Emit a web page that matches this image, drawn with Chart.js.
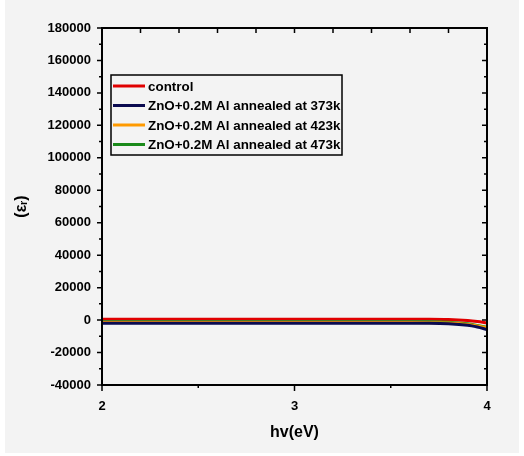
<!DOCTYPE html>
<html>
<head>
<meta charset="utf-8">
<script src="https://cdn.jsdelivr.net/npm/chart.js@4.4.0/dist/chart.umd.min.js"></script>
<style>
  html, body { margin: 0; padding: 0; background: #fff; }
  #panel { position: absolute; left: 5px; top: 0; width: 514px; height: 453px; background: #f3f3f3; }
  #wrap { position: absolute; left: 0; top: 0; width: 524px; height: 456px; }
</style>
</head>
<body>
<div id="panel"></div>
<div id="wrap"><canvas id="chart" width="524" height="456"></canvas></div>
<script>
// photon energy (eV)
const energy = [2, 2.5, 3, 3.5, 3.7, 3.8, 3.9, 3.95, 4];
const control = [500, 500, 500, 500, 500, 300, -300, -900, -1800];
const annealed373 = [-2000, -2000, -2000, -2000, -2000, -2300, -3200, -4300, -5800];
const annealed423 = [-1500, -1500, -1500, -1500, -1600, -1800, -2700, -3600, -4800];
const annealed473 = [-1000, -1000, -1000, -1000, -1000, -1300, -2300, -3300, -4500];
const seriesNames = ['control', 'ZnO+0.2M Al annealed at 373k', 'ZnO+0.2M Al annealed at 423k', 'ZnO+0.2M Al annealed at 473k'];
const seriesColors = ['#e00000', '#0a0a50', '#ff9a00', '#1a8a1a'];
const yTicks = [-40000, -20000, 0, 20000, 40000, 60000, 80000, 100000, 120000, 140000, 160000, 180000];
const xTicks = [2, 3, 4];

function toPoints(ys) {
    return energy.map((x, i) => ({ x: x, y: ys[i] }));
}

const allSeries = [control, annealed373, annealed423, annealed473];
// draw control last so it sits on top like the original
const order = [1, 2, 3, 0];
const datasets = order.map(i => ({
    label: seriesNames[i],
    data: toPoints(allSeries[i]),
    borderColor: seriesColors[i],
    borderWidth: 3,
    pointRadius: 0,
    tension: 0.3,
    fill: false
}));

const font = '"Liberation Sans", Arial, sans-serif';

// frame, tick marks and the boxed legend
const frameTicks = {
    id: 'frameTicks',
    afterDatasetsDraw(chart) {
        const c = chart.ctx;
        const a = chart.chartArea;
        const xs = chart.scales.x;
        const ys = chart.scales.y;
        c.save();
        c.strokeStyle = '#000';
        c.lineWidth = 2;
        c.strokeRect(a.left, a.top, a.right - a.left, a.bottom - a.top);
        c.lineWidth = 1.5;
        c.beginPath();
        for (let v = -40000; v <= 180000; v += 10000) {
            const y = ys.getPixelForValue(v);
            const len = v % 20000 === 0 ? 5 : 3;
            c.moveTo(a.left - len, y);
            c.lineTo(a.left, y);
            c.moveTo(a.right, y);
            c.lineTo(a.right - len, y);
        }
        for (let v = 2; v <= 4.001; v += 0.5) {
            const x = xs.getPixelForValue(v);
            const len = Math.abs(v - Math.round(v)) < 0.01 ? 6 : 3;
            c.moveTo(x, a.bottom);
            c.lineTo(x, a.bottom + len);
        }
        for (let v = 2.2; v < 3.95; v += 0.2) {
            const x = xs.getPixelForValue(v);
            c.moveTo(x, a.top);
            c.lineTo(x, a.top + 5);
        }
        c.stroke();

        // legend box
        const lx = 111, ly = 75, lw = 231, lh = 80;
        c.fillStyle = '#f3f3f3';
        c.fillRect(lx, ly, lw, lh);
        c.lineWidth = 1.5;
        c.strokeRect(lx, ly, lw, lh);
        c.font = 'bold 13.4px ' + font;
        c.textBaseline = 'middle';
        seriesNames.forEach((name, i) => {
            const y = ly + 11 + i * 19.5;
            c.strokeStyle = seriesColors[i];
            c.lineWidth = 3;
            c.beginPath();
            c.moveTo(lx + 2, y);
            c.lineTo(lx + 34, y);
            c.stroke();
            c.fillStyle = '#000';
            c.fillText(name, lx + 37, y + 1);
        });
        c.restore();
    }
};

new Chart(document.getElementById('chart'), {
    type: 'line',
    data: { datasets: datasets },
    options: {
        responsive: false,
        animation: false,
        layout: { padding: { top: 28, right: 37, left: 0, bottom: 0 } },
        plugins: { legend: { display: false }, tooltip: { enabled: false } },
        scales: {
            x: {
                type: 'linear',
                min: 2,
                max: 4,
                afterBuildTicks(scale) { scale.ticks = xTicks.map(v => ({ value: v })); },
                afterFit(scale) { scale.height = 71; },
                grid: { display: false },
                border: { display: false },
                ticks: { color: '#000', padding: 6, callback: v => String(v), font: { family: font, weight: 'bold', size: 13 } },
                title: { display: true, text: 'hv(eV)', color: '#000', padding: { top: 0, bottom: 14 }, font: { family: font, weight: 'bold', size: 16 } }
            },
            y: {
                min: -40000,
                max: 180000,
                afterBuildTicks(scale) { scale.ticks = yTicks.map(v => ({ value: v })); },
                afterFit(scale) { scale.width = 102; },
                grid: { display: false },
                border: { display: false },
                ticks: { color: '#000', padding: 3, callback: v => String(v), font: { family: font, weight: 'bold', size: 13 } },
                title: { display: true, text: '(εᵣ)', color: '#000', padding: { top: 12, bottom: 4 }, font: { family: font, weight: 'bold', size: 16 } }
            }
        }
    },
    plugins: [frameTicks]
});
</script>
</body>
</html>
